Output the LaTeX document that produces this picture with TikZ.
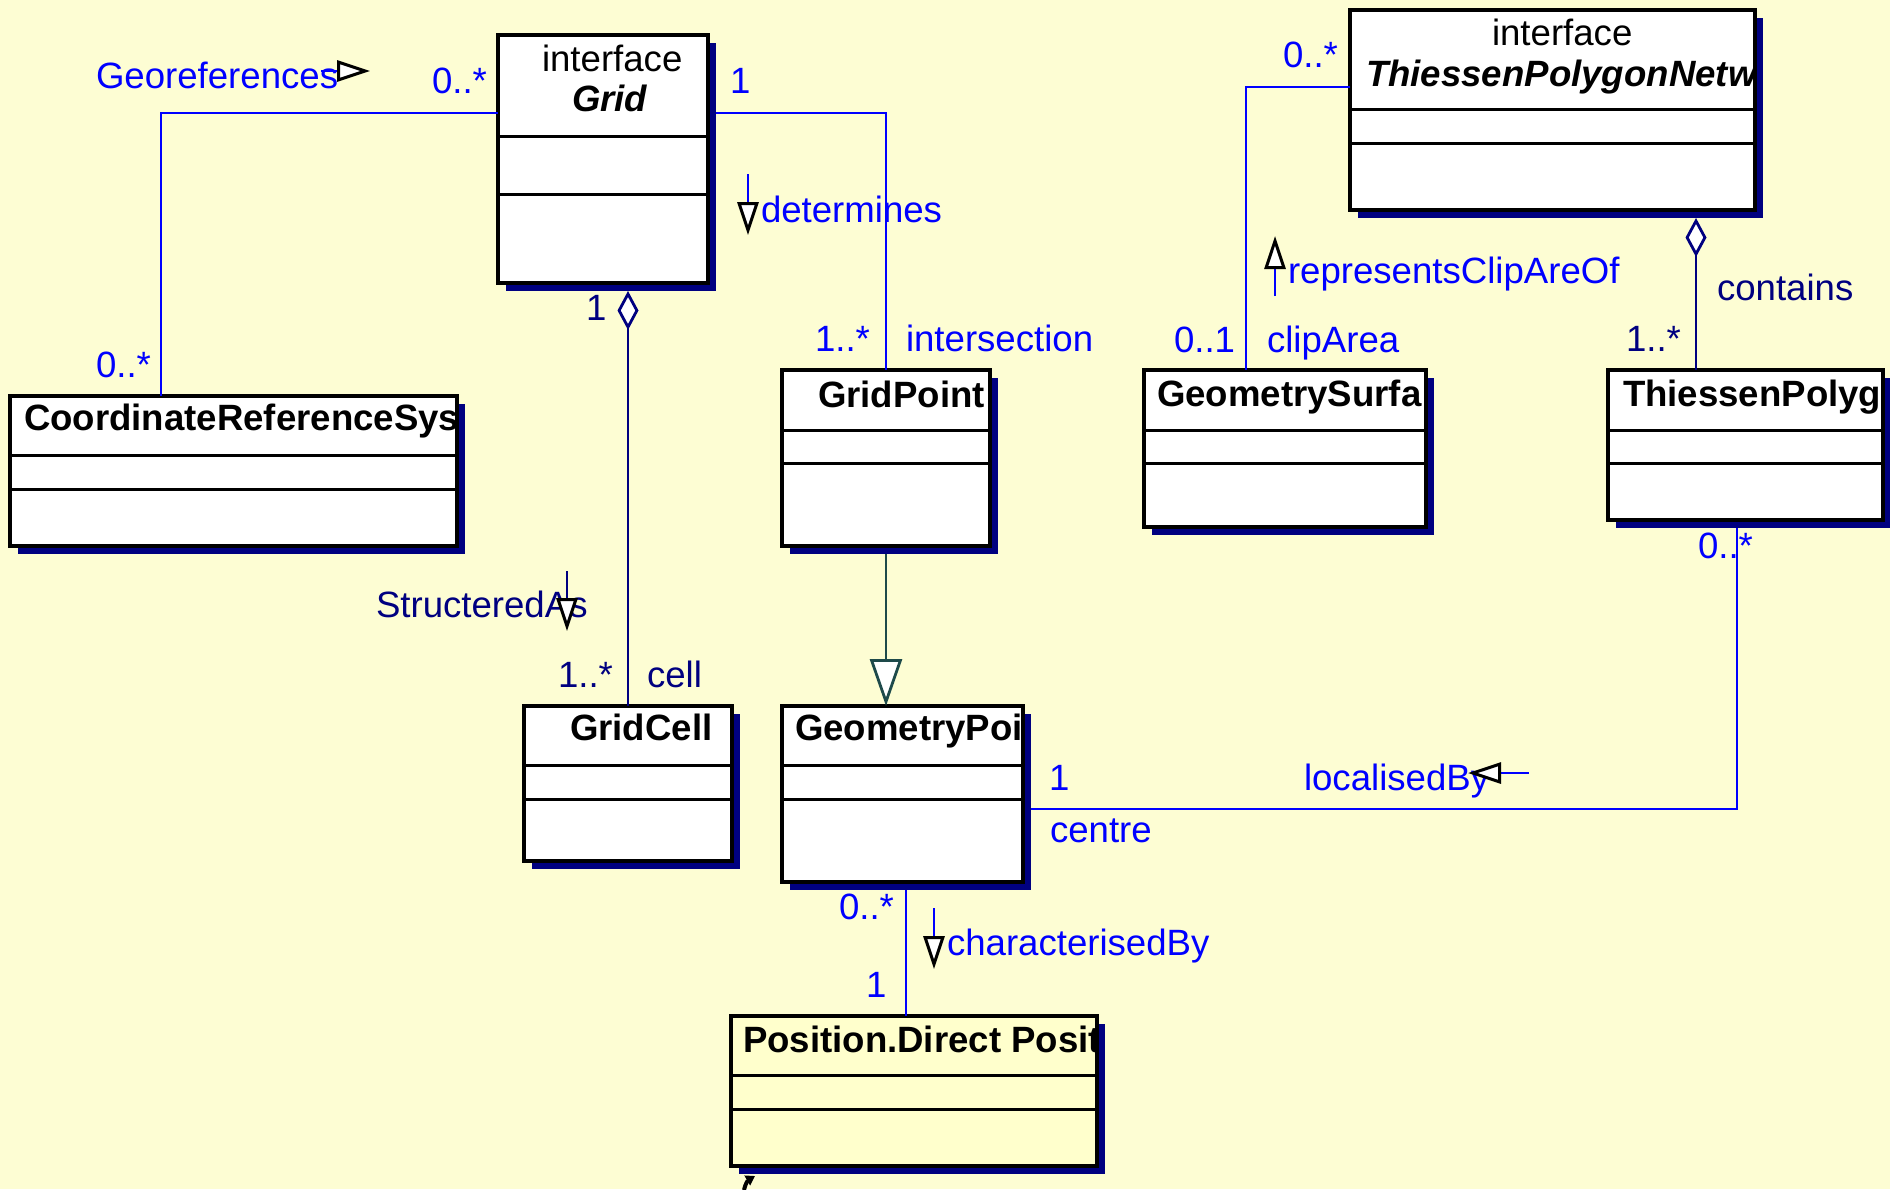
\documentclass[tikz,border=0pt]{standalone}
\usepackage{fontspec}
\setmainfont{Liberation Sans}
\usetikzlibrary{arrows.meta,shadows,calc}

\definecolor{bgyellow}{HTML}{FDFDD3}
\definecolor{posfill}{HTML}{FFFFCC}
\definecolor{shadowblue}{HTML}{000080}
\definecolor{linkblue}{HTML}{0000FF}
\definecolor{aggnavy}{HTML}{000080}
\definecolor{genteal}{HTML}{1E4A4A}

\newcommand\umlfont{\fontsize{36.6pt}{40pt}\selectfont}

% two compartment lines of a class box, given as offsets from its top edge
\newcommand\umldividers[3]{%
  \draw[divider] ([yshift=-#2pt]#1.north west) -- ([yshift=-#2pt]#1.north east);
  \draw[divider] ([yshift=-#3pt]#1.north west) -- ([yshift=-#3pt]#1.north east);}

% class name, cut off at the border of its box
\newcommand\umltitle[6]{%
  \begin{scope}
    \clip (#1.north west) rectangle (#1.south east);
    \node[title,#5] (#2) at (#3,#4) {#6};
  \end{scope}}

\begin{document}
\begin{tikzpicture}[x=1pt,y=-1pt,
  classbox/.style={draw=black, line width=3.3pt, fill=white, anchor=north west,
    inner sep=0pt, outer sep=0pt,
    general shadow={fill=shadowblue, shadow xshift=8pt, shadow yshift=-8pt}},
  divider/.style={draw=black, line width=3pt},
  title/.style={anchor=base west, inner sep=0pt, outer sep=0pt, font=\umlfont, text=black},
  lbl/.style={anchor=base west, inner sep=0pt, outer sep=0pt, font=\umlfont, text=linkblue},
  lbln/.style={lbl, text=aggnavy},
  assoc/.style={draw=linkblue, line width=2.8pt},
  aggr/.style={draw=aggnavy, line width=2.8pt,
    arrows={Diamond[length=39pt,width=21pt,fill=white]-}},
  gen/.style={draw=genteal, line width=2.8pt,
    arrows={-Triangle[length=47pt,width=32pt,fill=white]}},
  navarrow/.style={line width=2.8pt,
    arrows={-Triangle[length=33pt,width=21pt,color=black,fill=white,line width=3pt]}}]

\useasboundingbox (0,0) rectangle (1890,1189);
\fill[bgyellow] (0,0) rectangle (1890,1189);

% ---- classes ----
\node[classbox, minimum width=210pt, minimum height=248pt] (grid) at (498,35) {};
\umldividers{grid}{101}{159}
\node[title] (grid-st) at (542,71) {interface};
\umltitle{grid}{grid-name}{572}{111}{font=\umlfont\bfseries\itshape}{Grid}

\node[classbox, minimum width=405pt, minimum height=200pt] (tpn) at (1350,10) {};
\umldividers{tpn}{99}{133}
\node[title] (tpn-st) at (1492,45) {interface};
\umltitle{tpn}{tpn-name}{1366}{86}{font=\umlfont\bfseries\itshape}{ThiessenPolygonNetw}

\node[classbox, minimum width=447pt, minimum height=150pt] (crs) at (10,396) {};
\umldividers{crs}{59}{93}
\umltitle{crs}{crs-name}{24}{430}{font=\umlfont\bfseries}{CoordinateReferenceSys}

\node[classbox, minimum width=208pt, minimum height=176pt] (gridpoint) at (782,370) {};
\umldividers{gridpoint}{60}{93}
\umltitle{gridpoint}{gridpoint-name}{818}{407}{font=\umlfont\bfseries}{GridPoint}

\node[classbox, minimum width=282pt, minimum height=157pt] (geosurf) at (1144,370) {};
\umldividers{geosurf}{60}{93}
\umltitle{geosurf}{geosurf-name}{1157}{406}{font=\umlfont\bfseries}{GeometrySurfa}

\node[classbox, minimum width=275pt, minimum height=150pt] (thiessen) at (1608,370) {};
\umldividers{thiessen}{60}{93}
\umltitle{thiessen}{thiessen-name}{1623}{406}{font=\umlfont\bfseries}{ThiessenPolyg}

\node[classbox, minimum width=208pt, minimum height=155pt] (gridcell) at (524,706) {};
\umldividers{gridcell}{59}{93}
\umltitle{gridcell}{gridcell-name}{570}{740}{font=\umlfont\bfseries}{GridCell}

\node[classbox, minimum width=241pt, minimum height=176pt] (geompoint) at (782,706) {};
\umldividers{geompoint}{59}{93}
\umltitle{geompoint}{geompoint-name}{795}{740}{font=\umlfont\bfseries}{GeometryPoi}

\node[classbox, fill=posfill, minimum width=366pt, minimum height=150pt] (position) at (731,1016) {};
\umldividers{position}{59}{93}
\umltitle{position}{position-name}{743}{1052}{font=\umlfont\bfseries}{Position.Direct Posit}

% ---- connectors ----
% Grid -- CoordinateReferenceSystem
\draw[assoc] ([yshift=-78pt]grid.north west) -| ([xshift=151pt]crs.north west);
% Grid -- GridPoint
\draw[assoc] ([xshift=8pt,yshift=-78pt]grid.north east) -| (gridpoint.north);
% Grid <>-- GridCell
\path (gridcell.north |- grid.south) ++(0,8) coordinate (saTop);
\draw[aggr] (saTop) -- (gridcell.north);
% GridPoint --|> GeometryPoint
\path (gridpoint.south) ++(0,8) coordinate (genTop);
\draw[gen] (genTop) -- (genTop |- geompoint.north);
% GeometryPoint -- Position
\path ([xshift=124pt]geompoint.south west) ++(0,8) coordinate (cbTop);
\draw[assoc] (cbTop) -- (cbTop |- position.north);
% GeometryPoint -- ThiessenPolygon
\path ([xshift=8pt,yshift=-103pt]geompoint.north east) coordinate (lbStart);
\path ([xshift=129pt]thiessen.south west) ++(0,8) coordinate (lbEnd);
\draw[assoc] (lbStart) -| (lbEnd);
% ThiessenPolygonNetwork -- GeometrySurface
\draw[assoc] ([yshift=-77pt]tpn.north west) -| ([xshift=102pt]geosurf.north west);
% ThiessenPolygonNetwork <>-- ThiessenPolygon
\path ([xshift=346pt]tpn.south west) ++(0,8) coordinate (ctTop);
\draw[aggr] (ctTop) -- (ctTop |- thiessen.north);

% ---- association names and reading directions ----
\node[lbl] (geo-lbl) at (96,88) {Georeferences};
\draw[navarrow, linkblue] (321,71) -- (370,71);
\node[lbl] (geo-mul-a) at (432,93) {0..*};
\node[lbl] (geo-mul-b) at (96,377) {0..*};

\node[lbl] (det-mul-a) at (730,93) {1};
\node[lbl] (det-lbl) at (761,222) {determines};
\draw[navarrow, linkblue] (748,174) -- (748,235);
\node[lbl] (det-mul-b) at (815,351) {1..*};
\node[lbl] (det-role) at (906,351) {intersection};

\node[lbln] (sa-mul-a) at (586,320) {1};
\node[lbln] (sa-lbl) at (376,617) {StructeredAs};
\draw[navarrow, aggnavy] (567,571) -- (567,631);
\node[lbln] (sa-mul-b) at (558,687) {1..*};
\node[lbln] (sa-role) at (647,687) {cell};

\node[lbl] (cb-mul-a) at (839,919) {0..*};
\node[lbl] (cb-mul-b) at (866,997) {1};
\node[lbl] (cb-lbl) at (947,955) {characterisedBy};
\draw[navarrow, linkblue] (934,908) -- (934,969);

\node[lbl] (lb-mul-a) at (1049,790) {1};
\node[lbl] (lb-role) at (1050,842) {centre};
\node[lbl] (lb-lbl) at (1304,790) {localisedBy};
\draw[navarrow, linkblue] (1529,773) -- (1468,773);
\node[lbl] (lb-mul-b) at (1698,558) {0..*};

\node[lbl] (rc-mul-a) at (1283,67) {0..*};
\node[lbl] (rc-lbl) at (1288,283) {representsClipAreOf};
\draw[navarrow, linkblue] (1275,296) -- (1275,236);
\node[lbl] (rc-mul-b) at (1174,352) {0..1};
\node[lbl] (rc-role) at (1267,352) {clipArea};

\node[lbln] (ct-lbl) at (1717,300) {contains};
\node[lbln] (ct-mul) at (1626,351) {1..*};

% small hook mark under the Position box
\draw[line width=4pt, -{Triangle[length=9pt,width=11pt]}] (744,1190) to[out=80,in=210] (755,1176);

\end{tikzpicture}
\end{document}
